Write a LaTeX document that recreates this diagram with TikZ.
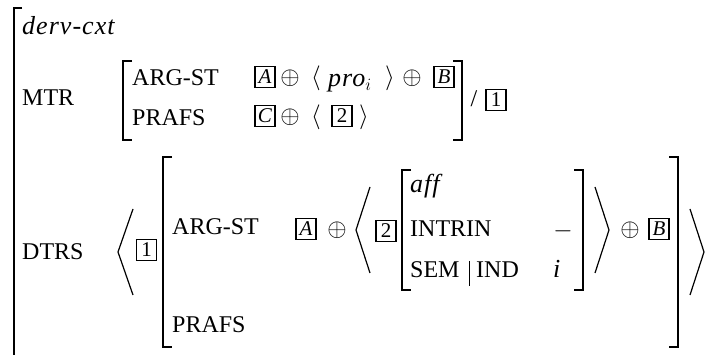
\documentclass[tikz,border=0pt]{standalone}
\usepackage{fontspec}
\setmainfont{Liberation Serif}
\newfontfamily\typefont[LetterSpace=4]{Liberation Serif}
\usepackage{tikz}

\newcommand{\tg}[1]{{\setlength{\fboxsep}{1.6pt}\setlength{\fboxrule}{1.6pt}%
  \fbox{\fontsize{21}{21}\selectfont\rule[-2pt]{0pt}{16.5pt}\makebox[15pt]{#1}}}}
\tikzset{
  txt/.style={anchor=base west, inner sep=0pt, font=\fontsize{24}{28}\selectfont},
  feat/.style={txt},
  typ/.style={txt, font=\fontsize{26}{30}\typefont\itshape},
  sym/.style={inner sep=0pt, font=\fontsize{24}{28}\selectfont},
  tag/.style={inner sep=0pt},
  brk/.style={line width=1.5pt},
  ang/.style={line width=1.2pt}
}

\begin{document}
\begin{tikzpicture}[x=1pt,y=-1pt]
      \useasboundingbox (0,0) rectangle (705,355);
      \draw [brk] (22,8) -- (14,8) -- (14,356);
      \node [typ] (type) at (22,35) {derv-cxt};
      \node [feat] (mtr) at (22,106) {MTR};
      \draw [brk] (132,61) -- (123,61) -- (123,140) -- (132,140);
      \node [feat] (argst1) at (132,86) {ARG-ST};
      \node [feat] (prafs1) at (132,126) {PRAFS};
      \node [tag] (tA1) at (265,77) {\tg{\textit{A}}};
      \node [sym] (op1) at (290,78) {$\oplus$};
      \node [sym] (la1) at (316,78) {$\langle$};
      \node [typ] (pro) at (328,87) {pro$_i$};
      \node [sym] (ra1) at (390,78) {$\rangle$};
      \node [sym] (op2) at (412,78) {$\oplus$};
      \node [tag] (tB1) at (444,77) {\tg{\textit{B}}};
      \node [tag] (tC1) at (265,116) {\tg{\textit{C}}};
      \node [sym] (op3) at (290,117) {$\oplus$};
      \node [sym] (la2) at (316,117) {$\langle$};
      \node [tag] (t21) at (342,116) {\tg{2}};
      \node [sym] (ra2) at (364,117) {$\rangle$};
      \draw [brk] (453,61) -- (462,61) -- (462,140) -- (453,140);
      \node [sym] (sl) at (474,99) {/};
      \node [tag] (t11) at (496,100) {\tg{1}};
      \node [feat] (dtrs) at (22,260) {DTRS};
      \draw [ang] (133,209) -- (118,252) -- (133,295);
      \node [tag] (t12) at (146.5,250) {\tg{1}};
      \draw [brk] (172,157) -- (163,157) -- (163,347) -- (172,347);
      \node [feat] (argst2) at (172,235) {ARG-ST};
      \node [feat] (prafs2) at (172,333) {PRAFS};
      \node [tag] (tA2) at (306,229) {\tg{\textit{A}}};
      \node [sym] (op4) at (337,230) {$\oplus$};
      \draw [ang] (370,187) -- (356,230) -- (370,273);
      \node [tag] (t22) at (386,231) {\tg{2}};
      \draw [brk] (411,170) -- (402,170) -- (402,290) -- (411,290);
      \node [typ] (aff) at (410,193) {aff};
      \node [feat] (intrin) at (410,237) {INTRIN};
      \node [sym] (minus) at (563,231) {$-$};
      \node [feat] (sem) at (410,278) {SEM};
      \draw [line width=0.8pt] (469,261) -- (469,286);
      \node [feat] (ind) at (476,278) {IND};
      \node [typ] (ival) at (553,278) {i};
      \draw [brk] (574,170) -- (583,170) -- (583,290) -- (574,290);
      \draw [ang] (595,187) -- (609,230) -- (595,273);
      \node [sym] (op5) at (630,230) {$\oplus$};
      \node [tag] (tB2) at (659,229) {\tg{\textit{B}}};
      \draw [brk] (669,157) -- (678,157) -- (678,347) -- (669,347);
      \draw [ang] (690,209) -- (704,252) -- (690,295);
   \end{tikzpicture}
\end{document}
